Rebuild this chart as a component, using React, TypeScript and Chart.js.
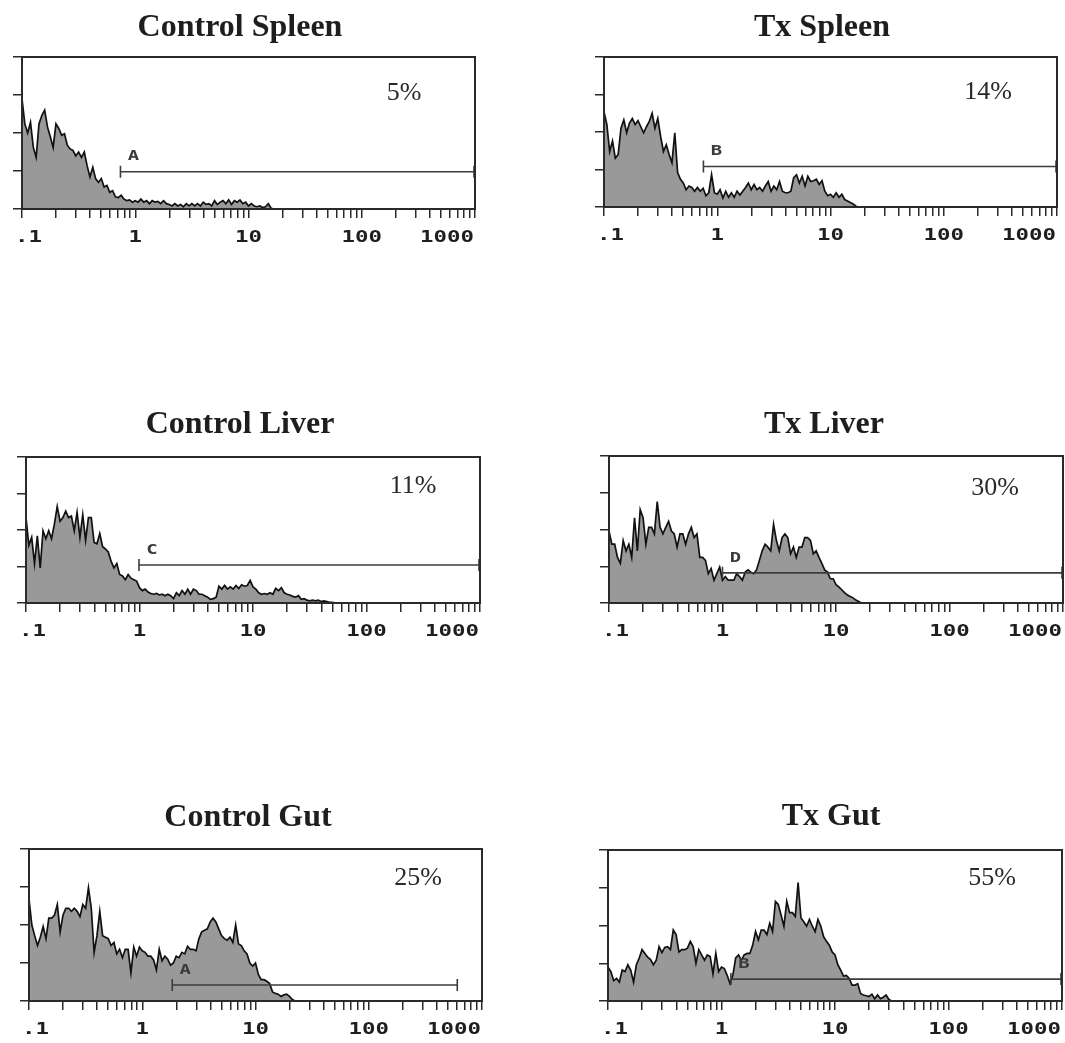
import React, { useEffect, useRef } from 'react';
import { Chart, registerables } from 'chart.js';

Chart.register(...registerables);

// ---------- data ----------
const panelTitles = ['Control Spleen', 'Tx Spleen', 'Control Liver', 'Tx Liver', 'Control Gut', 'Tx Gut'];
const percentLabels = ['5%', '14%', '11%', '30%', '25%', '55%'];
const gateLabels = ['A', 'B', 'C', 'D', 'A', 'B'];
const gateStarts = [0.74, 0.755, 0.99, 1.0, 1.84, 1.21];
const gateEnds = [1000, 1000, 1000, 1000, 605, 1000];
const gateLevels = [49, 54, 52, 41, 21, 29];
const decadeValues = [0.1, 1, 10, 100, 1000];
const xTickLabels = ['.1', '1', '10', '100', '1000'];
const CHANNELS_PER_DECADE = 40; // histogram channels per log decade, first channel at 0.1

const controlSpleen = [145, 112, 100, 114, 81, 68, 112, 123, 130, 108, 95, 81, 112, 106, 97, 99, 84, 79, 77, 70, 75, 68, 75, 57, 42, 55, 40, 35, 40, 29, 31, 22, 24, 16, 15, 18, 13, 11, 12, 9, 11, 9, 13, 9, 11, 7, 11, 9, 10, 7, 11, 7, 6, 4, 7, 4, 6, 3, 7, 4, 7, 4, 7, 4, 9, 6, 7, 4, 11, 6, 9, 11, 7, 12, 6, 11, 9, 12, 7, 9, 4, 7, 4, 3, 4, 2, 3, 7, 1, 0];
const txSpleen = [127, 110, 74, 88, 65, 70, 105, 116, 99, 112, 118, 110, 115, 107, 99, 107, 114, 125, 105, 118, 94, 74, 83, 70, 59, 99, 46, 37, 32, 23, 28, 26, 21, 26, 21, 25, 15, 19, 43, 19, 17, 23, 12, 21, 13, 19, 13, 21, 16, 21, 26, 32, 23, 30, 23, 26, 21, 28, 34, 21, 28, 23, 34, 21, 19, 19, 21, 39, 43, 32, 41, 28, 41, 34, 35, 37, 30, 35, 21, 15, 17, 13, 19, 13, 17, 10, 8, 6, 4, 1, 0];
const controlLiver = [117, 79, 90, 54, 92, 48, 99, 88, 99, 88, 108, 132, 112, 117, 126, 117, 119, 99, 124, 90, 121, 86, 117, 117, 83, 81, 95, 77, 74, 70, 57, 48, 54, 39, 37, 32, 39, 34, 32, 30, 21, 17, 19, 15, 13, 12, 13, 11, 12, 10, 12, 10, 6, 14, 10, 17, 12, 19, 12, 19, 17, 12, 12, 10, 8, 5, 6, 8, 23, 19, 24, 19, 22, 19, 24, 20, 25, 23, 24, 31, 22, 19, 14, 12, 13, 12, 14, 12, 20, 17, 21, 14, 12, 11, 9, 8, 10, 5, 6, 4, 3, 4, 3, 4, 2, 3, 2, 1, 1, 0];
const txLiver = [98, 80, 80, 62, 54, 85, 71, 80, 62, 116, 71, 127, 116, 80, 103, 103, 94, 138, 103, 94, 103, 111, 98, 94, 76, 94, 94, 80, 94, 103, 89, 94, 62, 62, 58, 40, 47, 31, 40, 49, 31, 36, 31, 31, 31, 40, 36, 31, 42, 45, 42, 40, 45, 58, 71, 80, 76, 71, 107, 85, 71, 89, 94, 89, 67, 76, 62, 76, 76, 89, 89, 85, 67, 71, 62, 54, 45, 42, 33, 33, 25, 22, 18, 14, 11, 9, 7, 4, 2, 0];
const controlGut = [134, 100, 86, 73, 84, 98, 82, 109, 109, 113, 127, 91, 113, 122, 122, 118, 122, 118, 111, 127, 122, 149, 122, 64, 86, 118, 86, 84, 82, 73, 77, 62, 68, 57, 68, 68, 37, 71, 59, 71, 66, 64, 59, 59, 54, 41, 68, 53, 59, 55, 47, 50, 59, 57, 64, 62, 72, 68, 68, 66, 82, 91, 93, 95, 104, 109, 104, 95, 86, 82, 80, 84, 77, 100, 75, 73, 66, 62, 50, 46, 50, 35, 28, 28, 26, 23, 12, 10, 9, 6, 8, 9, 6, 2, 0];
const txGut = [45, 39, 27, 30, 25, 41, 39, 48, 41, 25, 48, 57, 68, 63, 58, 55, 48, 54, 72, 64, 71, 72, 68, 94, 88, 65, 68, 68, 70, 79, 72, 50, 68, 61, 54, 61, 59, 36, 63, 39, 45, 43, 34, 23, 34, 57, 61, 54, 61, 63, 63, 74, 92, 81, 94, 94, 88, 103, 92, 132, 128, 114, 99, 132, 117, 117, 112, 157, 110, 105, 99, 108, 99, 92, 108, 99, 85, 79, 74, 65, 61, 48, 41, 33, 34, 30, 21, 21, 23, 10, 8, 7, 6, 9, 3, 8, 3, 5, 8, 2, 0];

const histograms = [controlSpleen, txSpleen, controlLiver, txLiver, controlGut, txGut];

// ---------- layout (page pixel positions) ----------
const layouts = [
  { l: 22, t: 57, r: 475, b: 209, tx: 240, ty: 36, px: 404, py: 100 },
  { l: 604, t: 57, r: 1057, b: 207, tx: 822, ty: 36, px: 988, py: 99 },
  { l: 26, t: 457, r: 480, b: 603, tx: 240, ty: 433, px: 413, py: 493 },
  { l: 609, t: 456, r: 1063, b: 603, tx: 824, ty: 433, px: 995, py: 495 },
  { l: 29, t: 849, r: 482, b: 1001, tx: 248, ty: 826, px: 418, py: 885 },
  { l: 608, t: 850, r: 1062, b: 1001, tx: 831, ty: 825, px: 992, py: 885 },
];
const PAD_LEFT = 22;
const PAD_TOP = 57;
const PAD_RIGHT = 2;
const PAD_BOTTOM = 40;

const INK = '#2a2a2a';
const MONO = '"DejaVu Sans Mono", "Liberation Mono", monospace';
const SERIF = '"Liberation Serif", "Times New Roman", serif';

function minorTicks(): number[] {
  const out: number[] = [];
  for (let d = 0; d < decadeValues.length - 1; d++) {
    for (let m = 1; m <= 9; m++) out.push(decadeValues[d] * m);
  }
  out.push(decadeValues[decadeValues.length - 1]);
  return out;
}

function drawWide(ctx: CanvasRenderingContext2D, text: string, cx: number, cy: number, stretch: number) {
  ctx.save();
  ctx.translate(cx, cy);
  ctx.scale(stretch, 1);
  ctx.fillText(text, 0, 0);
  ctx.restore();
}

function Panel({ index }: { index: number }) {
  const ref = useRef<HTMLCanvasElement | null>(null);
  const L = layouts[index];
  const width = L.r - L.l + PAD_LEFT + PAD_RIGHT;
  const height = L.b - L.t + PAD_TOP + PAD_BOTTOM;
  const left = L.l - PAD_LEFT;
  const top = L.t - PAD_TOP;

  useEffect(() => {
    if (!ref.current) return;
    const counts = histograms[index];
    const points = counts.map((c, i) => ({ x: 0.1 * Math.pow(10, i / CHANNELS_PER_DECADE), y: c }));
    const tickVals = minorTicks();

    const overlay = {
      id: 'overlay' + index,
      afterDatasetsDraw(chart: any) {
        const ctx = chart.ctx as CanvasRenderingContext2D;
        const xs = chart.scales.x;
        const ys = chart.scales.y;
        const area = chart.chartArea;
        // gate
        const gy = ys.getPixelForValue(gateLevels[index]);
        const gx1 = xs.getPixelForValue(gateStarts[index]);
        const gx2 = Math.min(xs.getPixelForValue(gateEnds[index]), area.right - 1);
        ctx.save();
        ctx.strokeStyle = '#3c3c3c';
        ctx.lineWidth = 1.6;
        ctx.beginPath();
        ctx.moveTo(gx1, gy);
        ctx.lineTo(gx2, gy);
        ctx.moveTo(gx1, gy - 6);
        ctx.lineTo(gx1, gy + 6);
        ctx.moveTo(gx2, gy - 6);
        ctx.lineTo(gx2, gy + 6);
        ctx.stroke();
        ctx.fillStyle = '#3a3a3a';
        ctx.font = 'bold 14px ' + MONO;
        ctx.textAlign = 'center';
        ctx.textBaseline = 'middle';
        drawWide(ctx, gateLabels[index], gx1 + 13, gy - 15, 1.35);
        ctx.restore();
      },
      afterDraw(chart: any) {
        const ctx = chart.ctx as CanvasRenderingContext2D;
        const xs = chart.scales.x;
        const area = chart.chartArea;
        ctx.save();
        // frame
        ctx.strokeStyle = INK;
        ctx.lineWidth = 2;
        ctx.strokeRect(area.left, area.top, area.right - area.left, area.bottom - area.top);
        // title
        ctx.fillStyle = '#1e1e1e';
        ctx.textAlign = 'center';
        ctx.textBaseline = 'alphabetic';
        ctx.font = 'bold 32px ' + SERIF;
        ctx.fillText(panelTitles[index], L.tx - left, L.ty - top);
        // percentage
        ctx.font = '26px ' + SERIF;
        ctx.fillStyle = '#2a2a2a';
        ctx.fillText(percentLabels[index], L.px - left, L.py - top);
        // decade labels
        ctx.font = 'bold 16px ' + MONO;
        ctx.textBaseline = 'middle';
        ctx.fillStyle = '#1e1e1e';
        const stretch = 1.4;
        decadeValues.forEach((v, k) => {
          const label = xTickLabels[k];
          const w = ctx.measureText(label).width * stretch;
          let cx = xs.getPixelForValue(v);
          cx = Math.max(cx, area.left - 7 + w / 2);
          cx = Math.min(cx, area.right - 1 - w / 2);
          drawWide(ctx, label, cx, area.bottom + 29, stretch);
        });
        ctx.restore();
      },
    };

    const chart = new Chart(ref.current, {
      type: 'line',
      data: {
        datasets: [
          {
            data: points,
            borderColor: '#111111',
            backgroundColor: '#999999',
            fill: 'origin',
            borderWidth: 1.7,
            pointRadius: 0,
            tension: 0,
          },
        ],
      },
      options: {
        animation: false,
        responsive: false,
        maintainAspectRatio: false,
        layout: { padding: { left: 0, top: PAD_TOP, right: PAD_RIGHT, bottom: 0 } },
        plugins: {
          legend: { display: false },
          tooltip: { enabled: false },
          title: { display: false },
        },
        scales: {
          x: {
            type: 'logarithmic',
            min: 0.1,
            max: 1000,
            afterBuildTicks: (s: any) => {
              s.ticks = tickVals.map((v) => ({ value: v }));
            },
            afterFit: (s: any) => {
              s.height = PAD_BOTTOM;
            },
            ticks: { display: false },
            grid: { drawOnChartArea: false, drawTicks: true, tickLength: 9, color: INK, lineWidth: 1.5 },
            border: { display: true, color: INK, width: 2 },
          },
          y: {
            min: 0,
            max: 200,
            ticks: { display: false, stepSize: 50 },
            afterFit: (s: any) => {
              s.width = PAD_LEFT;
            },
            grid: { drawOnChartArea: false, drawTicks: true, tickLength: 9, color: INK, lineWidth: 1.5 },
            border: { display: true, color: INK, width: 2 },
          },
        },
      } as any,
      plugins: [overlay],
    });
    return () => chart.destroy();
  }, [index]);

  return (
    <canvas
      ref={ref}
      width={width}
      height={height}
      style={{ position: 'absolute', left, top, width, height }}
    />
  );
}

export default function App() {
  return (
    <div
      style={{
        position: 'fixed',
        left: 0,
        top: 0,
        width: 1065,
        height: 1043,
        background: '#ffffff',
        overflow: 'hidden',
      }}
    >
      {layouts.map((_, i) => (
        <Panel key={i} index={i} />
      ))}
    </div>
  );
}
